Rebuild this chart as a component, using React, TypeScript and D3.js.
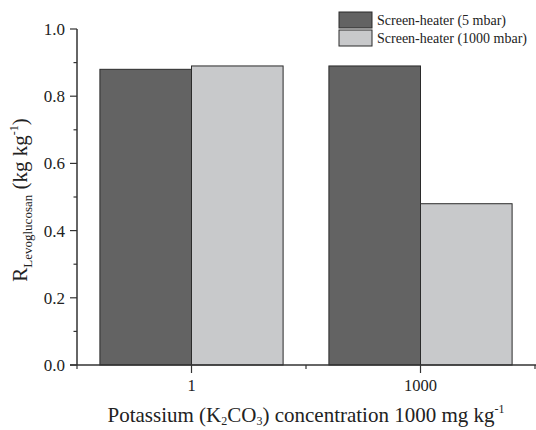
import React from 'react'
import * as d3 from 'd3'

// data
const categories = ['1', '1000']
const seriesNames = ['Screen-heater (5 mbar)', 'Screen-heater (1000 mbar)']
const lowPressure = [0.88, 0.89]
const atmPressure = [0.89, 0.48]
const seriesColours = ['#636363', '#c8c9cb']
const yTicks = [0, 0.2, 0.4, 0.6, 0.8, 1.0]
const yMinor = [0.1, 0.3, 0.5, 0.7, 0.9]

const W = 536
const H = 430
const left = 77
const right = 535
const top = 29
const bottom = 365
const font = '"Liberation Serif", "Times New Roman", serif'

export default function App() {
  const x = d3.scaleBand().domain(categories).range([left, right])
    .paddingInner(0.2).paddingOuter(0.1)
  const inner = d3.scaleBand().domain(seriesNames).range([0, x.bandwidth()])
  const y = d3.scaleLinear().domain([0, 1]).range([bottom, top])
  const values = [lowPressure, atmPressure]
  const minorX = [left, (x('1')! + x('1000')! + x.bandwidth()) / 2, right]

  return (
    <svg width={W} height={H} style={{ position: 'absolute', left: 0, top: 0 }}
      fontFamily={font}>
      <rect width={W} height={H} fill="white" />
      {categories.map((c, i) => seriesNames.map((s, j) => (
        <rect key={c + s} x={x(c)! + inner(s)!} y={y(values[j][i])}
          width={inner.bandwidth()} height={y(0) - y(values[j][i])}
          fill={seriesColours[j]} stroke="#2b2b2b" strokeWidth={1} />
      )))}
      {/* y axis */}
      <line x1={left} x2={left} y1={top} y2={bottom} stroke="#333" strokeWidth={1.5} />
      {yTicks.map(t => (
        <g key={t}>
          <line x1={left - 7} x2={left} y1={y(t)} y2={y(t)} stroke="#333" strokeWidth={1.2} />
          <text x={left - 12} y={y(t)} dy="0.35em" textAnchor="end" fontSize={17} fill="#222">
            {t.toFixed(1)}
          </text>
        </g>
      ))}
      {yMinor.map(t => (
        <line key={t} x1={left - 3.5} x2={left} y1={y(t)} y2={y(t)} stroke="#333" strokeWidth={1.2} />
      ))}
      {/* x axis */}
      <line x1={left - 7} x2={right + 2} y1={bottom} y2={bottom} stroke="#333" strokeWidth={1.5} />
      {categories.map(c => (
        <g key={c}>
          <line x1={x(c)! + x.bandwidth() / 2} x2={x(c)! + x.bandwidth() / 2}
            y1={bottom} y2={bottom + 8} stroke="#333" strokeWidth={1.2} />
          <text x={x(c)! + x.bandwidth() / 2} y={391} textAnchor="middle"
            fontSize={16.5} fill="#222">{c}</text>
        </g>
      ))}
      {minorX.map((m, i) => (
        <line key={i} x1={m} x2={m} y1={bottom} y2={bottom + 4} stroke="#333" strokeWidth={1.2} />
      ))}
      {/* axis titles */}
      <text x={306} y={422} textAnchor="middle" fontSize={21} fill="#222">
        Potassium (K<tspan dy={3} fontSize={12}>2</tspan><tspan dy={-3}>CO</tspan>
        <tspan dy={3} fontSize={12}>3</tspan><tspan dy={-3}>) concentration 1000 mg kg</tspan>
        <tspan dy={-9} fontSize={12}>-1</tspan>
      </text>
      <text transform={`translate(27, ${(top + bottom) / 2 + 3}) rotate(-90)`} textAnchor="middle"
        fontSize={21} fill="#222">
        R<tspan dy={5} fontSize={13}>Levoglucosan</tspan>
        <tspan dy={-5}> (kg kg</tspan><tspan dy={-9} fontSize={12}>-1</tspan>
        <tspan dy={9}>)</tspan>
      </text>
      {/* legend */}
      {seriesNames.map((s, j) => (
        <g key={s} transform={`translate(339, ${12 + j * 18})`}>
          <rect width={33} height={16} fill={seriesColours[j]} stroke="#2b2b2b" strokeWidth={1} />
          <text x={38} y={12.5} fontSize={14} fill="#222">{s}</text>
        </g>
      ))}
    </svg>
  )
}
